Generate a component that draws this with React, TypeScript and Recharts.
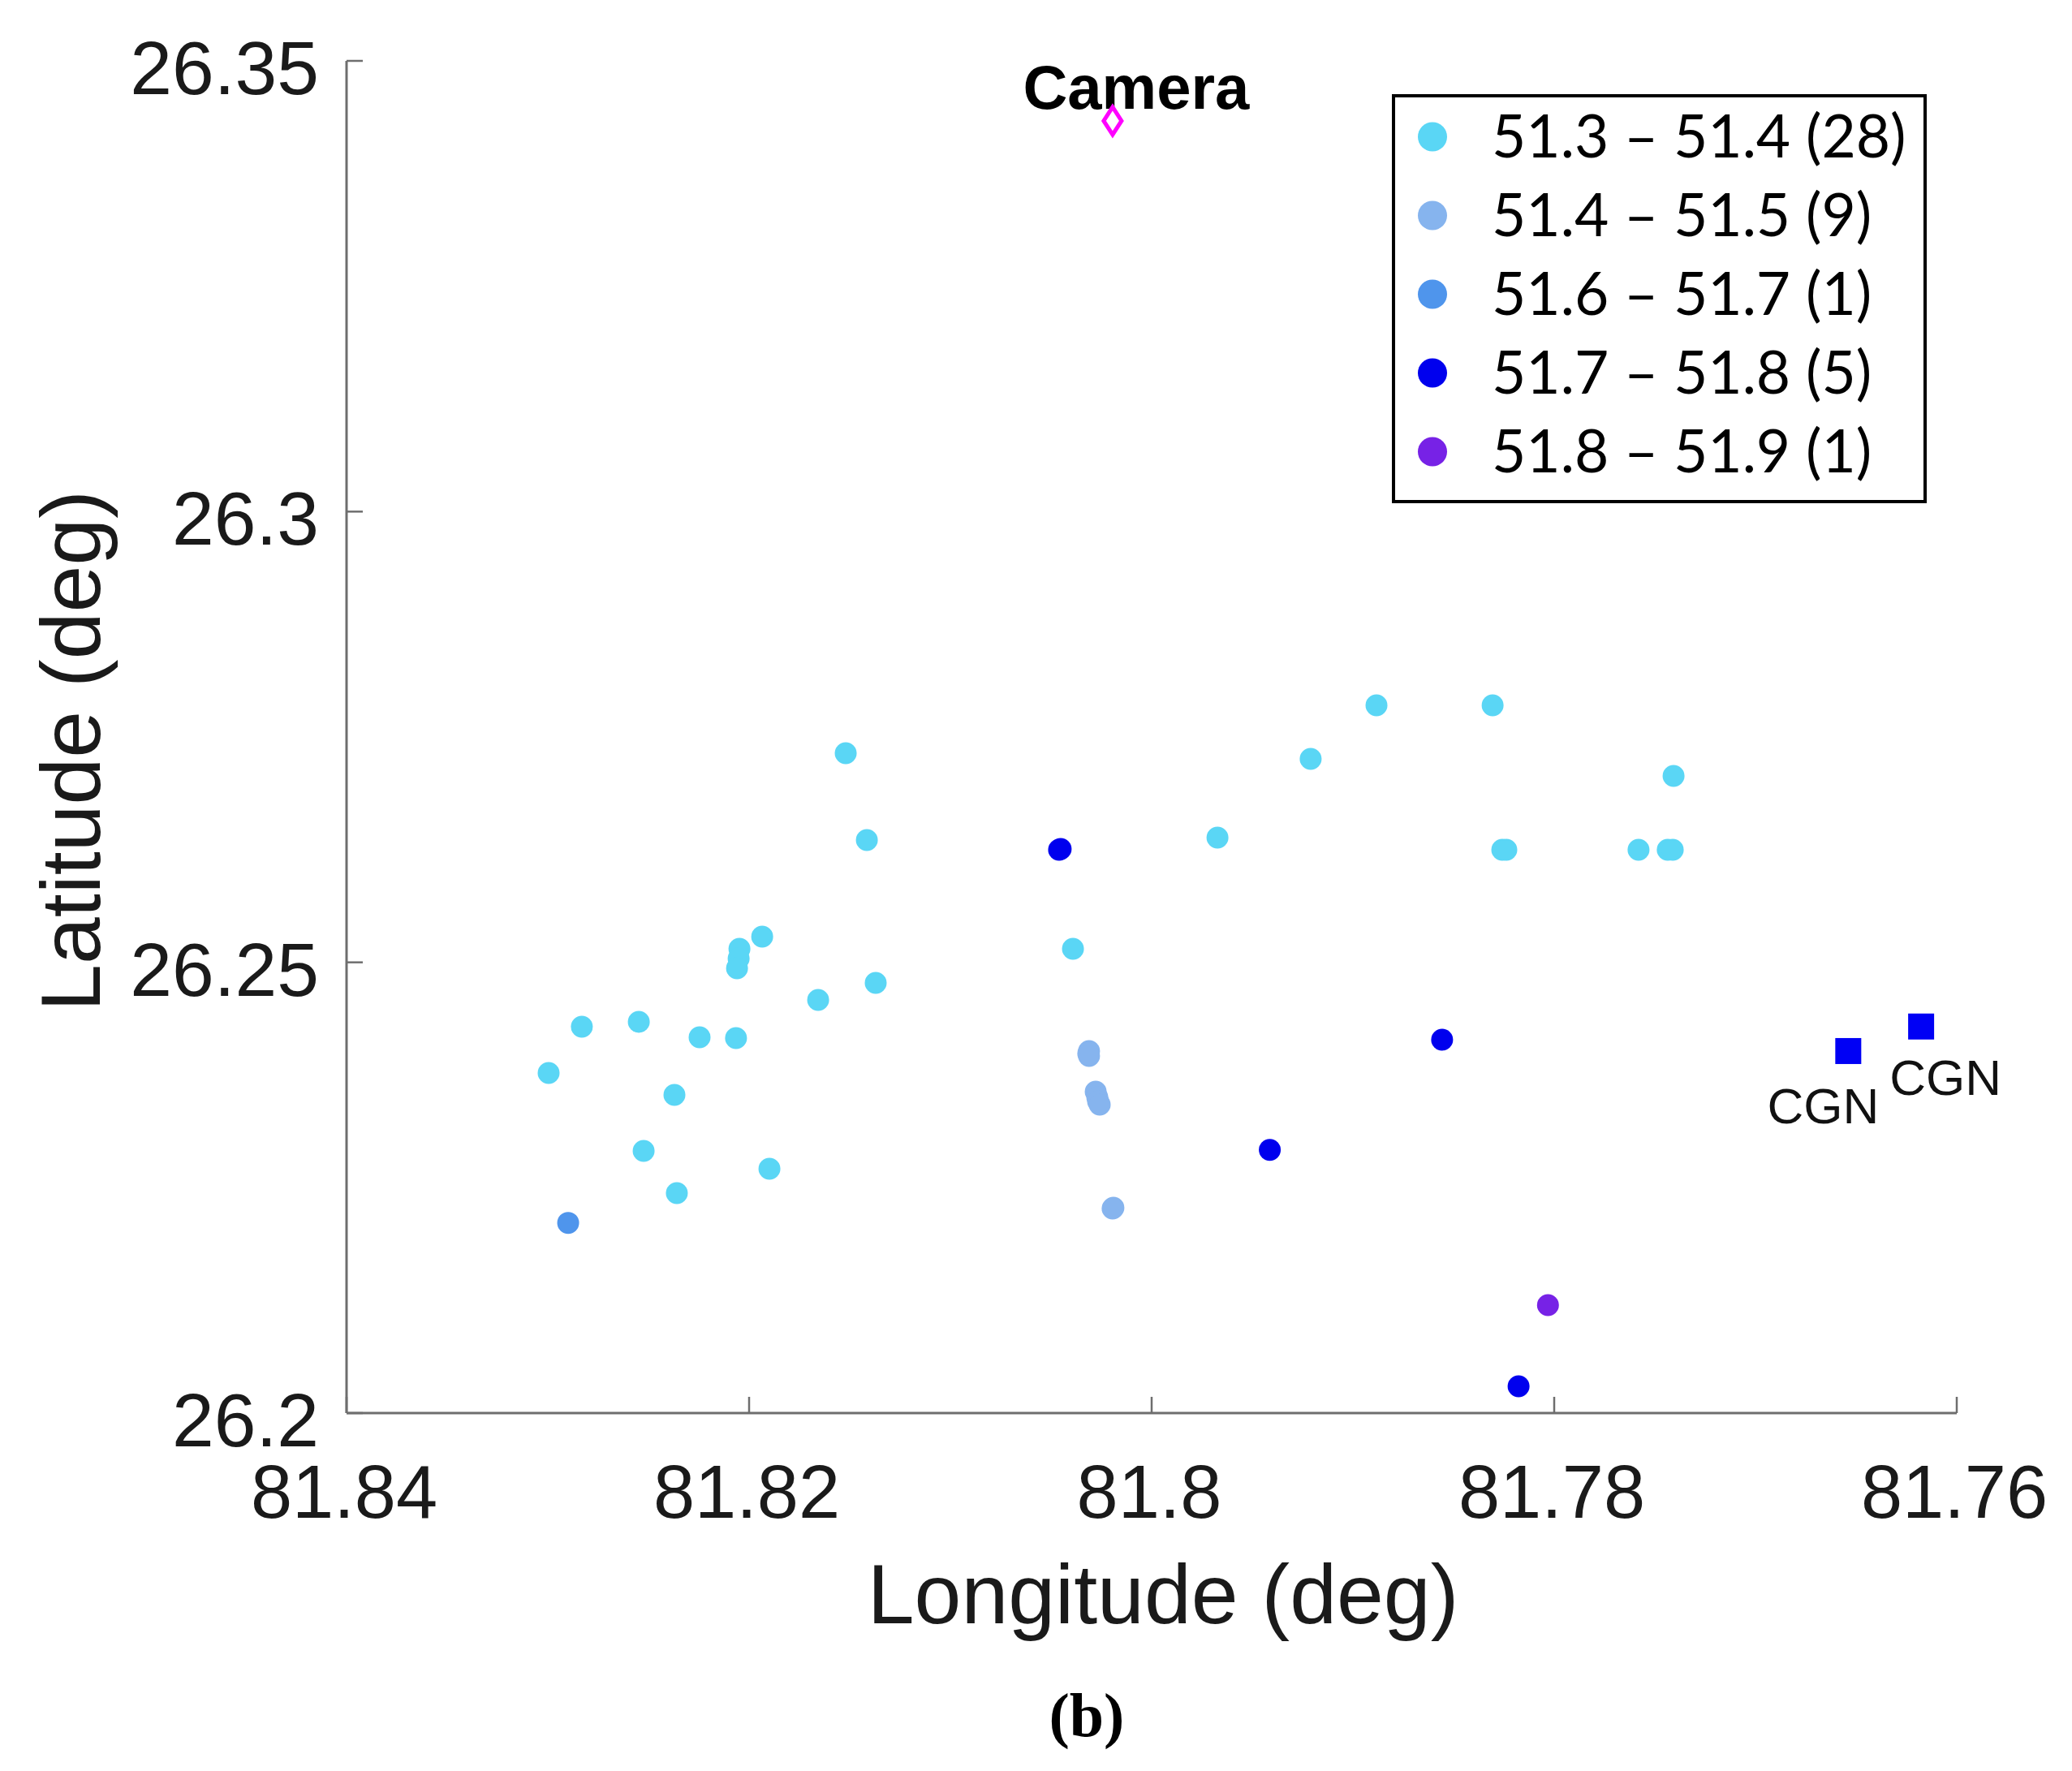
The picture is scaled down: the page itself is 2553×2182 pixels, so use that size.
import React from 'react';
import { ScatterChart, Scatter, XAxis, YAxis, Legend, Label } from 'recharts';

// ---------- data ----------
const xTicks = [81.76, 81.78, 81.8, 81.82, 81.84];
const yTicks = [26.2, 26.25, 26.3, 26.35];

// 51.3 – 51.4 (28)
const band1: number[][] = [
  [81.81935, 26.25285], [81.82048, 26.2515], [81.82052, 26.25042], [81.8206, 26.24934],
  [81.81371, 26.24772], [81.81657, 26.24583], [81.82831, 26.24286], [81.82548, 26.2434],
  [81.82246, 26.24169], [81.82065, 26.2416], [81.82996, 26.23773], [81.82371, 26.23529],
  [81.82524, 26.22908], [81.81899, 26.2271], [81.82359, 26.2244], [81.8152, 26.2732],
  [81.81415, 26.26357], [81.79673, 26.26384], [81.80391, 26.2515], [81.78883, 26.27851],
  [81.78306, 26.27851], [81.7921, 26.27257], [81.77407, 26.27068], [81.78258, 26.26248],
  [81.78238, 26.26248], [81.77581, 26.26248], [81.77436, 26.26248], [81.77411, 26.26248],
];
// 51.4 – 51.5 (9)
const band2: number[][] = [
  [81.80311, 26.24016], [81.80315, 26.23989], [81.80311, 26.23962], [81.80278, 26.23565],
  [81.8027, 26.23502], [81.80266, 26.23457], [81.80258, 26.23421], [81.8019, 26.22278],
  [81.80194, 26.22269],
];
// 51.6 – 51.7 (1)
const band3: number[][] = [[81.82899, 26.2211]];
// 51.7 – 51.8 (5)
const band4: number[][] = [
  [81.80452, 26.26258], [81.8046, 26.26249], [81.78557, 26.24142], [81.79413, 26.2292],
  [81.78177, 26.20297],
];
// 51.8 – 51.9 (1)
const band5: number[][] = [[81.78031, 26.21197]];

const cameraPos: number[][] = [[81.80194, 26.34334]];
const cgnPos: number[][] = [[81.76539, 26.24016], [81.76177, 26.24288]];
const cgnLabels = ['CGN', 'CGN'];

const legendLabels = [
  '51.3 \u2013 51.4 (28)',
  '51.4 \u2013 51.5 (9)',
  '51.6 \u2013 51.7 (1)',
  '51.7 \u2013 51.8 (5)',
  '51.8 \u2013 51.9 (1)',
];

// ---------- styles ----------
const bandColors = ['#5ad6f5', '#86b4ee', '#4f95ec', '#0000ee', '#7722e6'];
const axisColor = '#6e6e6e';
const textColor = '#1a1a1a';
const sans = "'Liberation Sans', Arial, Helvetica, sans-serif";
const cgnOffsets = [
  { dx: -31, dy: 89 },
  { dx: 30, dy: 84 },
];

const toPts = (arr: number[][]) => arr.map(([x, y], i) => ({ x, y, i }));

const dotShape = (color: string) => (p: any) => (
  <circle cx={p.cx} cy={p.cy} r={13.5} fill={color} />
);

const cameraShape = (p: any) => (
  <g>
    <text x={p.cx + 29} y={p.cy - 15} textAnchor="middle" fontSize={76} fontWeight="bold" fontFamily={sans} fill="#000">
      Camera
    </text>
    <path
      d={`M${p.cx},${p.cy - 17} L${p.cx + 11},${p.cy} L${p.cx},${p.cy + 17} L${p.cx - 11},${p.cy} Z`}
      fill="none"
      stroke="#ff00ff"
      strokeWidth={5}
    />
  </g>
);

const cgnShape = (p: any) => {
  const i = p.payload && typeof p.payload.i === 'number' ? p.payload.i : 0;
  const off = cgnOffsets[i];
  return (
    <g>
      <rect x={p.cx - 16} y={p.cy - 16} width={32} height={32} fill="#0000f5" />
      <text x={p.cx + off.dx} y={p.cy + off.dy} textAnchor="middle" fontSize={62} fontFamily={sans} fill="#111">
        {cgnLabels[i]}
      </text>
    </g>
  );
};

const XTick = (p: any) => {
  const x = p.payload.coordinate;
  const y = p.y;
  return (
    <g>
      <line x1={x} x2={x} y1={y} y2={y - 20} stroke={axisColor} strokeWidth={2.5} />
      <text x={x - 3} y={y + 129} textAnchor="middle" fontSize={92} fontFamily={sans} fill={textColor}>
        {String(p.payload.value)}
      </text>
    </g>
  );
};

const YTick = (p: any) => {
  const y = p.payload.coordinate;
  const x = p.x;
  return (
    <g>
      <line x1={x} x2={x + 20} y1={y} y2={y} stroke={axisColor} strokeWidth={2.5} />
      <text x={x - 34} y={y + 41} textAnchor="end" fontSize={93} fontFamily={sans} fill={textColor}>
        {String(p.payload.value)}
      </text>
    </g>
  );
};

const XLabel = (props: any) => {
  const vb = props.viewBox || { x: 419, y: 1733, width: 1984, height: 300 };
  return (
    <g>
      <text x={vb.x + vb.width / 2 + 14} y={vb.y + 259} textAnchor="middle" fontSize={104} fontFamily={sans} fill={textColor}>
        Longitude (deg)
      </text>
      <text x={vb.x + 912} y={vb.y + 398} textAnchor="middle" fontSize={76} fontWeight="bold" fontFamily="'Liberation Serif', 'Times New Roman', serif" fill="#000">
        (b)
      </text>
    </g>
  );
};

const YLabel = (props: any) => {
  const vb = props.viewBox || { x: 19, y: 67, width: 400, height: 1666 };
  const x = vb.x + 96;
  const y = vb.y + vb.height / 2 + 17;
  return (
    <text x={x} y={y} transform={`rotate(-90, ${x}, ${y})`} textAnchor="middle" fontSize={104} fontFamily={sans} fill={textColor}>
      Latitude (deg)
    </text>
  );
};

const LegendBox = () => (
  <svg width={659} height={504} style={{ display: 'block' }}>
    <rect x={2} y={2} width={655} height={500} fill="#fff" stroke="#000" strokeWidth={4} />
    {legendLabels.map((lab, i) => (
      <g key={lab}>
        <circle cx={50} cy={52.5 + i * 97} r={18} fill={bandColors[i]} />
        <text x={123} y={78 + i * 97} fontSize={73} fontFamily="Lato, 'Open Sans', sans-serif" fill="#000">
          {lab}
        </text>
      </g>
    ))}
  </svg>
);

export default function App() {
  const bands = [band1, band2, band3, band4, band5];
  return (
    <ScatterChart width={2537} height={2166} margin={{ top: 67, right: 134, bottom: 133, left: 19 }}>
      <XAxis
        type="number"
        dataKey="x"
        domain={[81.76, 81.84]}
        ticks={xTicks}
        interval={0}
        reversed
        height={300}
        axisLine={{ stroke: axisColor, strokeWidth: 3 }}
        tickLine={false}
        tickSize={0}
        tickMargin={0}
        tick={<XTick />}
      >
        <Label content={<XLabel />} />
      </XAxis>
      <YAxis
        type="number"
        dataKey="y"
        domain={[26.2, 26.35]}
        ticks={yTicks}
        interval={0}
        width={400}
        axisLine={{ stroke: axisColor, strokeWidth: 3 }}
        tickLine={false}
        tickSize={0}
        tickMargin={0}
        tick={<YTick />}
      >
        <Label content={<YLabel />} />
      </YAxis>
      <Legend
        layout="vertical"
        align="center"
        verticalAlign="middle"
        content={<LegendBox />}
        wrapperStyle={{ left: 1707, top: 108, width: 659, height: 504 }}
      />
      {bands.map((b, i) => (
        <Scatter
          key={i}
          name={legendLabels[i]}
          data={toPts(b)}
          fill={bandColors[i]}
          shape={dotShape(bandColors[i])}
          isAnimationActive={false}
        />
      ))}
      <Scatter name="Camera" data={toPts(cameraPos)} fill="#ff00ff" shape={cameraShape} isAnimationActive={false} />
      <Scatter name="CGN" data={toPts(cgnPos)} fill="#0000f5" shape={cgnShape} isAnimationActive={false} />
    </ScatterChart>
  );
}
